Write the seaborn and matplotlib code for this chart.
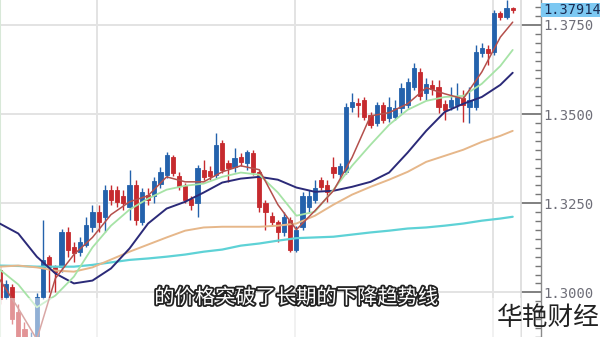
import matplotlib
matplotlib.use("Agg")
import matplotlib.pyplot as plt
import matplotlib.patheffects as pe
import matplotlib.transforms as mtransforms
from matplotlib.patches import Rectangle
from matplotlib.ticker import FixedLocator, MultipleLocator, NullFormatter
import seaborn as sns
import pandas as pd

# ---------------- data ----------------
opens = [1.3064, 1.2988, 1.3014, 1.2946, 1.2896, 1.2826, 1.2868, 1.2988, 1.3098, 1.3072,
         1.3070, 1.3170, 1.3128, 1.3114, 1.3134, 1.3182, 1.3224, 1.3210, 1.3288, 1.3288,
         1.3271, 1.3240, 1.3302, 1.3198, 1.3274, 1.3271, 1.3305, 1.3330, 1.3380, 1.3327,
         1.3299, 1.3263, 1.3252, 1.3344, 1.3341, 1.3330, 1.3420, 1.3364, 1.3352, 1.3380,
         1.3364, 1.3392, 1.3338, 1.3252, 1.3215, 1.3196, 1.3168, 1.3204, 1.3120, 1.3182,
         1.3238, 1.3260, 1.3316, 1.3302, 1.3352, 1.3333, 1.3338, 1.3520, 1.3532, 1.3540,
         1.3498, 1.3476, 1.3526, 1.3490, 1.3492, 1.3518, 1.3526, 1.3576, 1.3618, 1.3560,
         1.3582, 1.3576, 1.3529, 1.3520, 1.3526, 1.3546, 1.3520, 1.3520, 1.3672, 1.3683,
         1.3674, 1.3784, 1.3772, 1.3798]
closes = [1.2980, 1.3022, 1.2924, 1.2854, 1.2834, 1.2874, 1.2988, 1.3092, 1.3070, 1.3056,
          1.3170, 1.3120, 1.3109, 1.3142, 1.3190, 1.3226, 1.3196, 1.3288, 1.3260, 1.3254,
          1.3252, 1.3302, 1.3204, 1.3282, 1.3260, 1.3313, 1.3338, 1.3386, 1.3336, 1.3299,
          1.3260, 1.3246, 1.3350, 1.3324, 1.3327, 1.3414, 1.3344, 1.3350, 1.3378, 1.3366,
          1.3394, 1.3338, 1.3238, 1.3224, 1.3196, 1.3170, 1.3212, 1.3120, 1.3176, 1.3271,
          1.3271, 1.3294, 1.3296, 1.3282, 1.3336, 1.3355, 1.3520, 1.3534, 1.3526, 1.3492,
          1.3470, 1.3526, 1.3484, 1.3520, 1.3518, 1.3574, 1.3590, 1.3630, 1.3551, 1.3585,
          1.3571, 1.3520, 1.3512, 1.3540, 1.3548, 1.3526, 1.3540, 1.3674, 1.3686, 1.3672,
          1.3784, 1.3772, 1.3798, 1.37914]
highs = [1.3078, 1.3036, 1.3022, 1.2966, 1.2918, 1.2890, 1.2997, 1.3204, 1.3106, 1.3078,
         1.3179, 1.3182, 1.3142, 1.3156, 1.3212, 1.3246, 1.3246, 1.3302, 1.3302, 1.3299,
         1.3288, 1.3344, 1.3316, 1.3294, 1.3294, 1.3324, 1.3352, 1.3394, 1.3386, 1.3338,
         1.3308, 1.3271, 1.3358, 1.3372, 1.3355, 1.3448, 1.3428, 1.3372, 1.3406, 1.3392,
         1.3400, 1.3400, 1.3344, 1.3260, 1.3226, 1.3204, 1.3224, 1.3212, 1.3187, 1.3282,
         1.3288, 1.3316, 1.3324, 1.3316, 1.3380, 1.3364, 1.3532, 1.3560, 1.3546, 1.3548,
         1.3506, 1.3534, 1.3534, 1.3548, 1.3540, 1.3588, 1.3602, 1.3644, 1.3630, 1.3602,
         1.3596, 1.3596, 1.3540, 1.3576, 1.3588, 1.3568, 1.3576, 1.3694, 1.3700, 1.3694,
         1.3792, 1.3789, 1.3820, 1.3800]
lows = [1.2966, 1.2980, 1.2910, 1.2840, 1.2818, 1.2798, 1.2854, 1.2980, 1.3000, 1.3000,
        1.3058, 1.3098, 1.3086, 1.3103, 1.3126, 1.3170, 1.3170, 1.3168, 1.3246, 1.3240,
        1.3232, 1.3204, 1.3190, 1.3190, 1.3246, 1.3252, 1.3294, 1.3322, 1.3327, 1.3288,
        1.3252, 1.3232, 1.3210, 1.3316, 1.3316, 1.3322, 1.3336, 1.3310, 1.3338, 1.3355,
        1.3344, 1.3330, 1.3224, 1.3176, 1.3187, 1.3142, 1.3159, 1.3112, 1.3112, 1.3176,
        1.3226, 1.3252, 1.3288, 1.3254, 1.3322, 1.3322, 1.3333, 1.3506, 1.3492, 1.3484,
        1.3462, 1.3467, 1.3476, 1.3478, 1.3484, 1.3504, 1.3518, 1.3568, 1.3540, 1.3540,
        1.3554, 1.3504, 1.3484, 1.3512, 1.3512, 1.3478, 1.3476, 1.3512, 1.3660, 1.3638,
        1.3666, 1.3764, 1.3767, 1.3784]

ma_idx = [0, 3, 6, 9, 12, 15, 18, 21, 24, 27, 30, 33, 36, 39, 42, 45, 48, 51, 54, 57,
          60, 63, 66, 69, 72, 75, 78, 81, 83]
ma_fast = [1.3036, 1.2955, 1.2868, 1.3039, 1.3106, 1.3154, 1.3218, 1.3254, 1.3271, 1.3324,
           1.3310, 1.3310, 1.3338, 1.3355, 1.3344, 1.3246, 1.3176, 1.3229, 1.3285, 1.3378,
           1.3495, 1.3504, 1.3529, 1.3574, 1.3557, 1.3543, 1.3618, 1.3716, 1.3758]
ma_green = [1.3064, 1.3022, 1.2958, 1.2991, 1.3044, 1.3126, 1.3187, 1.3232, 1.3263, 1.3288,
            1.3299, 1.3305, 1.3324, 1.3336, 1.3330, 1.3280, 1.3215, 1.3226, 1.3288, 1.3355,
            1.3414, 1.3470, 1.3512, 1.3537, 1.3548, 1.3551, 1.3585, 1.3635, 1.3680]
ma_navy = [1.3193, 1.3165, 1.3100, 1.3053, 1.3025, 1.3033, 1.3067, 1.3123, 1.3193, 1.3235,
           1.3254, 1.3280, 1.3308, 1.3319, 1.3324, 1.3316, 1.3294, 1.3282, 1.3285, 1.3296,
           1.3310, 1.3336, 1.3392, 1.3453, 1.3506, 1.3529, 1.3548, 1.3582, 1.3616]
ma_tan = [1.3072, 1.3075, 1.3070, 1.3061, 1.3058, 1.3070, 1.3092, 1.3114, 1.3134, 1.3154,
          1.3173, 1.3182, 1.3184, 1.3184, 1.3184, 1.3187, 1.3193, 1.3215, 1.3246, 1.3274,
          1.3296, 1.3316, 1.3338, 1.3366, 1.3383, 1.3400, 1.3422, 1.3439, 1.3453]
ma_cyan = [1.3075, 1.3074, 1.3072, 1.3072, 1.3072, 1.3077, 1.3084, 1.3091, 1.3095, 1.3100,
           1.3106, 1.3114, 1.3120, 1.3131, 1.3137, 1.3145, 1.3152, 1.3154, 1.3156, 1.3162,
           1.3168, 1.3173, 1.3179, 1.3182, 1.3187, 1.3193, 1.3201, 1.3207, 1.3212]

y_ticks = [1.3000, 1.3250, 1.3500, 1.3750]
y_labels = ["1.3000", "1.3250", "1.3500", "1.3750"]
last_price = 1.37914
last_label = "1.37914"
subtitle = "的价格突破了长期的下降趋势线"
watermark = "华艳财经"

# ---------------- styling ----------------
sns.set_style("white")
plt.rcParams["font.family"] = ["DejaVu Sans Mono", "DejaVu Sans"]

W, H = 600, 337
fig = plt.figure(figsize=(W / 100, H / 100), dpi=100)
ax = fig.add_axes([0, 0, 541 / W, 1])

UP = "#2462AC"
DOWN = "#C62A2E"
GRID = "#E3E3E3"

n = len(opens)
xs = list(range(n))
df = pd.DataFrame({"x": xs, "open": opens, "close": closes, "high": highs, "low": lows})
df["up"] = df["close"] >= df["open"]
df["color"] = df["up"].map({True: UP, False: DOWN})
df["bottom"] = df[["open", "close"]].min(axis=1)
df["height"] = (df["close"] - df["open"]).abs()

# wicks and bodies
ax.vlines(df["x"], df["low"], df["high"], colors=df["color"], linewidth=1.0, zorder=2)
ax.bar(df["x"], df["height"], bottom=df["bottom"], width=0.68, color=df["color"],
       edgecolor=df["color"], linewidth=0.6, zorder=2.5)

# moving averages via seaborn
ma = pd.DataFrame({"x": ma_idx, "fast": ma_fast, "green": ma_green, "navy": ma_navy,
                   "tan": ma_tan, "cyan": ma_cyan})
for col, colr, lw in [("cyan", "#5ED2D6", 1.6), ("tan", "#E6B78A", 1.4),
                      ("navy", "#2B2A78", 1.4), ("green", "#A6E3A6", 1.3),
                      ("fast", "#B4504C", 1.1)]:
    sns.lineplot(data=ma, x="x", y=col, ax=ax, color=colr, linewidth=lw,
                 zorder=3, legend=False)

# axes limits
ax.set_xlim(0.042, 87.58)
ax.set_ylim(1.28747, 1.38201)

# grid
ax.xaxis.set_major_locator(FixedLocator([15.74, 47.78, 79.82]))
ax.yaxis.set_major_locator(FixedLocator(y_ticks))
ax.yaxis.set_minor_locator(MultipleLocator(0.0025))
ax.grid(True, which="major", color=GRID, linewidth=1.4, zorder=0)
ax.set_axisbelow(True)
ax.tick_params(axis="x", length=0, labelbottom=False)
ax.set_xlabel("")
ax.set_ylabel("")

ax.yaxis.tick_right()
ax.set_yticklabels(y_labels)
ax.yaxis.set_minor_formatter(NullFormatter())
ax.tick_params(axis="y", which="major", direction="in", length=14.5, width=1.1,
               color="#666666", pad=1.5, labelsize=10, labelcolor="#6E6E78",
               left=False, right=True)
ax.tick_params(axis="y", which="minor", direction="in", length=4.5, width=1.0,
               color="#777777", left=False, right=True)
for lab in ax.get_yticklabels():
    lab.set_family(["DejaVu Sans Mono"])

for s in ["top", "bottom"]:
    ax.spines[s].set_visible(False)
ax.spines["right"].set_color("#8A8A8A")
ax.spines["right"].set_linewidth(1.0)
ax.spines["left"].set_color("#D8E8D8")
ax.spines["left"].set_linewidth(1.5)

# plot border inside the axis strip
ax.axvline(84.35, color="#DADADA", linewidth=1.2, zorder=1)

# faded band at the bottom
ax.add_patch(Rectangle((0, 0), 521 / 541, 39 / 337, transform=ax.transAxes,
                       facecolor="white", alpha=0.5, edgecolor="none", zorder=4))

# price tag
trans = mtransforms.blended_transform_factory(ax.transAxes, ax.transData)
ax.add_patch(Rectangle((1.0, last_price - 0.0020), 60 / 541, 0.0040, transform=trans,
                       facecolor="#7CC8F2", edgecolor="none", clip_on=False, zorder=5))
ax.text(1.0 + 2 / 541, last_price, last_label, transform=trans, ha="left", va="center",
        fontsize=9.8, color="#1A2A50", family=["DejaVu Sans Mono"], clip_on=False, zorder=6)

# subtitle and watermark
cjk = ["Noto Sans CJK SC", "DejaVu Sans"]
fig.text(296 / W, 1 - 298 / H, subtitle, ha="center", va="center", fontsize=14.6,
         color="white", family=cjk,
         path_effects=[pe.withStroke(linewidth=2.6, foreground="#222222")])
fig.text(548 / W, 1 - 318 / H, watermark, ha="center", va="center", fontsize=18.5,
         color="#222222", family=cjk, weight="light")

fig.savefig("out.png", dpi=100)
